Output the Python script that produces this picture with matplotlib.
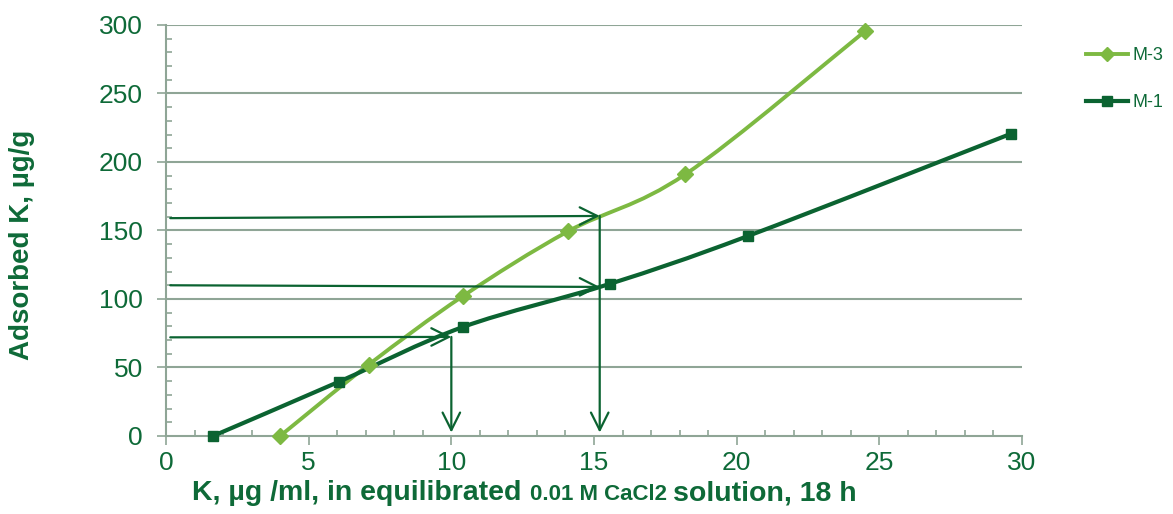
import matplotlib
matplotlib.use("Agg")
import matplotlib.pyplot as plt
from matplotlib.path import Path
from matplotlib.patches import PathPatch
from matplotlib.lines import Line2D
from matplotlib.offsetbox import TextArea, HPacker, AnchoredOffsetbox
from matplotlib.ticker import MultipleLocator

plt.rcParams['font.family'] = ['Liberation Sans', 'DejaVu Sans']

# ---- data ----
m3_x = [4.0, 7.1, 10.4, 14.1, 18.2, 24.5]
m3_y = [0, 52, 102, 149.5, 191, 295.5]
m1_x = [1.65, 6.05, 10.4, 15.55, 20.4, 29.6]
m1_y = [0, 39.5, 79.5, 111, 146, 220.5]
series_names = ["M-3", "M-1"]

# guide arrows (start, end)
h_arrow_start = [(0.15, 72), (0.15, 110), (0.15, 159)]
h_arrow_end = [(10.0, 72.3), (15.2, 108.8), (15.2, 160.6)]
v_arrow_start = [(10.0, 72.3), (15.2, 160.6)]
v_arrow_end = [(10.0, 2.5), (15.2, 2.5)]

x_ticks = [0, 5, 10, 15, 20, 25, 30]
y_ticks = [0, 50, 100, 150, 200, 250, 300]

DARK = "#0b6331"
LIGHT = "#7db942"
TEXT = "#0e6a38"
AXC = "#8fa596"


def smooth_path(xs, ys):
    pts = list(zip(xs, ys))
    n = len(pts)
    verts = [pts[0]]
    codes = [Path.MOVETO]
    for i in range(n - 1):
        p0 = pts[i - 1] if i > 0 else pts[i]
        p1 = pts[i]
        p2 = pts[i + 1]
        p3 = pts[i + 2] if i + 2 < n else pts[i + 1]
        c1 = (p1[0] + (p2[0] - p0[0]) / 6, p1[1] + (p2[1] - p0[1]) / 6)
        c2 = (p2[0] - (p3[0] - p1[0]) / 6, p2[1] - (p3[1] - p1[1]) / 6)
        verts += [c1, c2, p2]
        codes += [Path.CURVE4] * 3
    return Path(verts, codes)


fig = plt.figure(figsize=(11.73, 5.14), dpi=100)
ax = fig.add_axes([0.1415, 0.1518, 0.8713 - 0.1415, 0.9514 - 0.1518])

ax.set_xlim(0, 30)
ax.set_ylim(0, 300)

# grid
for yv in y_ticks[1:]:
    ax.axhline(yv, color=AXC, lw=1.5, zorder=0)

for s in ["top", "right"]:
    ax.spines[s].set_visible(False)
for s in ["left", "bottom"]:
    ax.spines[s].set_color(AXC)
    ax.spines[s].set_linewidth(1.5)

ax.set_xticks(x_ticks)
ax.set_yticks(y_ticks)
ax.xaxis.set_minor_locator(MultipleLocator(1))
ax.yaxis.set_minor_locator(MultipleLocator(10))
ax.tick_params(axis="both", which="major", direction="out", length=6.5, width=1.2,
               color=AXC, labelcolor=TEXT, labelsize=19)
ax.tick_params(axis="both", which="minor", direction="in", length=4.5, width=1.2,
               color=AXC)
ax.tick_params(axis="y", which="major", pad=10)
ax.tick_params(axis="x", which="major", pad=4)

# lines
ax.add_patch(PathPatch(smooth_path(m3_x, m3_y), fill=False, edgecolor=LIGHT,
                       lw=2.8, zorder=3, capstyle="round"))
ax.add_patch(PathPatch(smooth_path(m1_x, m1_y), fill=False, edgecolor=DARK,
                       lw=3.0, zorder=4, capstyle="round"))
ax.plot(m3_x, m3_y, linestyle="none", marker="D", ms=8, color=LIGHT, zorder=5,
        clip_on=False)
ax.plot(m1_x, m1_y, linestyle="none", marker="s", ms=7.2, color=DARK, zorder=6,
        clip_on=False)

# arrows
aprops = dict(arrowstyle="->,head_length=0.7,head_width=0.35", color=DARK, lw=1.6,
              mutation_scale=18, shrinkA=0, shrinkB=0)
for s, e in zip(h_arrow_start, h_arrow_end):
    ax.annotate("", xy=e, xytext=s, arrowprops=aprops, zorder=7)
for s, e in zip(v_arrow_start, v_arrow_end):
    ax.annotate("", xy=e, xytext=s, arrowprops=aprops, zorder=7)

# legend
handles = [
    Line2D([], [], color=LIGHT, lw=2.8, marker="D", ms=7.5),
    Line2D([], [], color=DARK, lw=3.0, marker="s", ms=7.5),
]
leg = fig.legend(handles, series_names, loc="upper left",
                 bbox_to_anchor=(0.912, 0.94), frameon=False, fontsize=13,
                 handlelength=2.3, handletextpad=0.25, labelspacing=1.65,
                 labelcolor=TEXT)

# y label
fig.text(0.019, 0.523, "Adsorbed K, µg/g", rotation=90, ha="center", va="center",
         fontsize=20, fontweight="bold", color=TEXT)

# x label with mixed sizes
t1 = TextArea("K, µg /ml, in equilibrated ",
              textprops=dict(fontsize=20.5, fontweight="bold", color=TEXT))
t2 = TextArea("0.01 M CaCl2 ",
              textprops=dict(fontsize=16, fontweight="bold", color=TEXT))
t3 = TextArea("solution, 18 h",
              textprops=dict(fontsize=20.5, fontweight="bold", color=TEXT))
box = HPacker(children=[t1, t2, t3], align="baseline", pad=0, sep=0)
anch = AnchoredOffsetbox(loc="center", child=box, pad=0, frameon=False,
                         bbox_to_anchor=(0.447, 0.04), bbox_transform=fig.transFigure,
                         borderpad=0)
fig.add_artist(anch)

fig.savefig("out.png", dpi=100)
